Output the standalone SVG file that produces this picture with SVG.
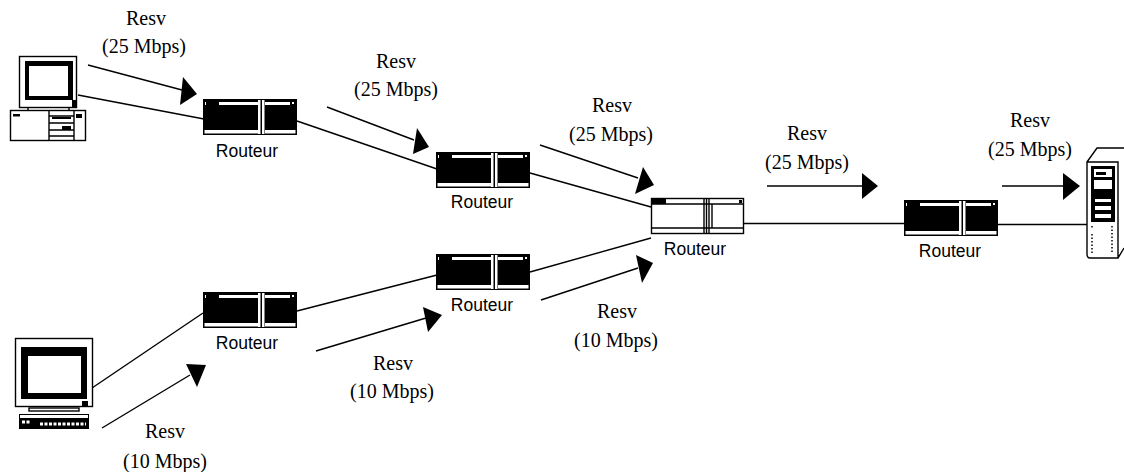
<svg xmlns="http://www.w3.org/2000/svg" width="1124" height="472" viewBox="0 0 1124 472">
<style>
.l{fill:none;stroke:#000;stroke-width:1.4}
.a{fill:#000;stroke:none}
.r{font:20px "Liberation Serif",serif;fill:#000;text-anchor:middle}
.t{font:17.500px "Liberation Sans",sans-serif;fill:#000;text-anchor:middle}
.w{fill:#fff;stroke:none}
.o{fill:#fff;stroke:#000;stroke-width:1.4}
.k{fill:#000;stroke:none}
</style>
<defs>
<g id="rb">
<rect x="0.5" y="0.5" width="93" height="35" fill="#000" stroke="#000"/>
<rect class="w" x="16" y="3" width="39" height="3"/>
<rect class="w" x="62" y="3" width="25" height="3"/>
<rect class="w" x="1.5" y="31" width="53.500" height="3.500"/>
<rect class="w" x="62" y="31" width="30.500" height="3.500"/>
<rect class="w" x="55" y="1" width="2.500" height="34"/>
<rect class="w" x="59" y="1" width="2.500" height="34"/>
<rect class="w" x="2" y="3" width="1" height="3"/>
<rect class="w" x="89" y="3" width="2" height="2"/>
</g>
<g id="rw">
<rect class="o" x="0.500" y="0.500" width="92" height="35"/>
<rect class="k" x="1" y="1" width="14" height="5"/>
<path class="l" d="M1 6H92M1 30H92M53 1V35M55.500 1V35M58 1V35M61 6V30"/>
<rect class="k" x="88" y="2" width="3" height="3"/>
</g>
</defs>
<rect width="1124" height="472" fill="#fff"/>
<g id="connectors">
<path class="l" d="M78 95L204 119"/>
<path class="l" d="M297 121L437 169"/>
<path class="l" d="M530 173L651 207"/>
<path class="l" d="M744 223.500H904"/>
<path class="l" d="M998 224.500H1087"/>
<path class="l" d="M92 388L203 313"/>
<path class="l" d="M297 311L437 275"/>
<path class="l" d="M530 272L651 238"/>
<path class="l" d="M88 65L182 90"/>
<path class="a" d="M183 77L197 94L180 105Z"/>
<path class="l" d="M327 107L414 140"/>
<path class="a" d="M417 128L429 147L413 154Z"/>
<path class="l" d="M540 145L638 178"/>
<path class="a" d="M643 167L654 185L635 194Z"/>
<path class="l" d="M767 186H864"/>
<path class="a" d="M862 173L878 186L862 199Z"/>
<path class="l" d="M1002 186H1064"/>
<path class="a" d="M1063 173L1080 186L1063 200Z"/>
<path class="l" d="M102 428L190 375"/>
<path class="a" d="M186 364L206 365L197 387Z"/>
<path class="l" d="M316 351L426 318"/>
<path class="a" d="M423 307L442 315L428 332Z"/>
<path class="l" d="M541 300L638 268"/>
<path class="a" d="M636 255L653 263L642 283Z"/>
</g>
<g id="pc1">
<rect class="o" x="19.500" y="56.500" width="57" height="51"/>
<rect class="k" x="25" y="61" width="48" height="39"/>
<rect class="w" x="29" y="66" width="39" height="30"/>
<rect class="k" x="72" y="100" width="4" height="7"/>
<path class="l" d="M28 108V111M69 108V111"/>
<rect class="o" x="10.500" y="110.500" width="75" height="30"/>
<path class="l" d="M49 110V140M74 110V140M49 116H74M49 123H74M49 130H74M49 136H74"/>
<rect class="k" x="13" y="114" width="7" height="2.500"/>
<rect class="k" x="52" y="117" width="19" height="2"/>
<rect class="k" x="62" y="126" width="9" height="4"/>
<rect class="k" x="76" y="114" width="6" height="4"/>
</g>
<g id="pc2">
<rect class="o" x="15.500" y="338.500" width="77" height="68"/>
<rect class="k" x="21" y="347" width="66" height="52"/>
<rect class="w" x="28" y="356" width="53" height="37"/>
<rect class="k" x="82" y="401" width="6" height="5"/>
<rect class="o" x="29" y="408" width="50" height="3"/>
<rect class="k" x="19" y="414" width="70" height="15"/>
<rect class="w" x="20" y="415" width="68" height="3"/>
<path d="M22 422H30M40 424H86" stroke="#fff" stroke-width="3" stroke-dasharray="3 1.500" fill="none"/>
</g>
<g id="server">
<path class="o" d="M1087 162L1097 148H1124M1124 248L1118 258H1090Q1087 258 1087 254V162H1118V258"/>
<rect class="k" x="1091" y="166" width="24" height="56"/>
<rect class="w" x="1094" y="169" width="18" height="8"/>
<rect class="k" x="1096" y="172" width="10" height="3"/>
<rect class="w" x="1094" y="180" width="18" height="9"/>
<rect class="w" x="1095" y="199" width="16" height="3"/>
<rect class="w" x="1095" y="206" width="16" height="4"/>
<rect class="w" x="1095" y="214" width="16" height="4"/>
<path d="M1092 226V228M1112 226V253M1092 234V253" stroke="#000" stroke-width="1.500" stroke-dasharray="1.500 2" fill="none"/>
</g>
<g id="router1"><use href="#rb" x="203" y="99"/><text class="t" x="247" y="157">Routeur</text></g>
<g id="router2"><use href="#rb" x="436" y="152"/><text class="t" x="482" y="208">Routeur</text></g>
<g id="router3"><use href="#rw" x="651" y="198"/><text class="t" x="695" y="255">Routeur</text></g>
<g id="router4"><use href="#rb" x="904" y="200"/><text class="t" x="950" y="257">Routeur</text></g>
<g id="router5"><use href="#rb" x="436" y="254"/><text class="t" x="482" y="311">Routeur</text></g>
<g id="router6"><use href="#rb" x="203" y="292"/><text class="t" x="247" y="349">Routeur</text></g>
<g id="labels">
<text class="r" x="146" y="25">Resv</text><text class="r" x="144" y="53">(25 Mbps)</text>
<text class="r" x="396" y="68">Resv</text><text class="r" x="396" y="96">(25 Mbps)</text>
<text class="r" x="612" y="112">Resv</text><text class="r" x="611" y="141">(25 Mbps)</text>
<text class="r" x="807" y="140">Resv</text><text class="r" x="807" y="169">(25 Mbps)</text>
<text class="r" x="1030" y="127">Resv</text><text class="r" x="1030" y="156">(25 Mbps)</text>
<text class="r" x="165" y="438">Resv</text><text class="r" x="165" y="468">(10 Mbps)</text>
<text class="r" x="393" y="370">Resv</text><text class="r" x="392" y="398">(10 Mbps)</text>
<text class="r" x="617" y="318">Resv</text><text class="r" x="616" y="347">(10 Mbps)</text>
</g>
</svg>
